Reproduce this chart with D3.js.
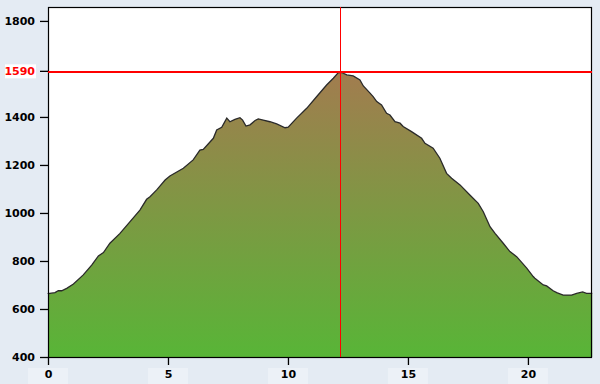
<!DOCTYPE html>
<html><head><meta charset="utf-8">
<script src="https://cdn.jsdelivr.net/npm/d3@7"></script>
<style>html,body{margin:0;padding:0;background:#e4ebf3;}</style>
</head><body>
<svg id="c" width="600" height="384"></svg>
<script>
const distKm = [0,0.01,0.29,0.43,0.57,0.78,1.06,1.47,1.82,2.10,2.31,2.58,3.0,3.42,3.83,4.11,4.25,4.53,4.88,5.08,5.64,6.05,6.33,6.47,6.89,7.03,7.24,7.45,7.58,7.79,8.0,8.11,8.25,8.42,8.63,8.76,8.97,9.25,9.53,9.88,10.01,10.36,10.78,11.2,11.61,11.89,12.1,12.24,12.45,12.72,13.0,13.14,13.42,13.55,13.7,13.9,14.11,14.25,14.46,14.67,14.8,15.15,15.57,15.71,16.05,16.33,16.61,16.82,17.17,17.58,17.93,18.14,18.42,18.63,18.97,19.25,19.53,19.95,20.22,20.29,20.64,20.78,21.05,21.2,21.47,21.82,22.03,22.28,22.44,22.68];
const elevM  = [662,664,668,676,676,686,704,742,783,821,835,874,915,964,1012,1057,1068,1096,1137,1154,1186,1221,1262,1265,1311,1346,1357,1395,1380,1390,1397,1387,1362,1367,1385,1392,1387,1380,1371,1355,1357,1395,1436,1485,1533,1561,1585,1585,1575,1571,1554,1529,1499,1485,1464,1450,1415,1408,1380,1374,1360,1339,1311,1290,1270,1228,1165,1145,1117,1075,1040,1005,943,915,874,839,818,770,735,728,700,696,676,668,658,658,665,671,665,665];
const yTicks = [400,600,800,1000,1200,1400,1800];
const xTicks = [0,5,10,15,20];
const markerKm = 12.2;
const markerElev = 1590;

(function(){
const svg = d3.select("#c");
const L = 48, R = 592, T = 7, B = 357;
const x = d3.scaleLinear().domain([0, 22.67]).range([L, R]);
const y = d3.scaleLinear().domain([400, 1858]).range([B, T]);

const defs = svg.append("defs");
const g = defs.append("linearGradient").attr("id","gr").attr("gradientUnits","userSpaceOnUse")
  .attr("x1",0).attr("x2",0).attr("y1",y(1590)).attr("y2",y(400));
g.append("stop").attr("offset","0").attr("stop-color","#a27c4f");
g.append("stop").attr("offset","1").attr("stop-color","#58b537");

svg.append("rect").attr("x",L).attr("y",T).attr("width",R-L).attr("height",B-T).attr("fill","#fff");

const data = distKm.map((d,i)=>({d, e: elevM[i]}));
svg.append("path").datum(data).attr("fill","url(#gr)")
  .attr("d", d3.area().x(p=>x(p.d)).y0(y(400)).y1(p=>y(p.e)));
svg.append("path").datum(data).attr("fill","none").attr("stroke","#2a2a2a").attr("stroke-width",1.3)
  .attr("d", d3.line().x(p=>x(p.d)).y(p=>y(p.e)));

// frame
svg.append("rect").attr("x",L+0.5).attr("y",T+0.5).attr("width",R-L-1).attr("height",B-T)
  .attr("fill","none").attr("stroke","#000").attr("stroke-width",1.2);

// crosshair
const hy = Math.floor(y(markerElev)), vx = Math.floor(x(markerKm));
const ch = svg.append("g").attr("class","crosshair").attr("shape-rendering","crispEdges");
ch.append("rect").attr("x",L).attr("y",hy).attr("width",R-L).attr("height",2).style("fill","#ff0000");
ch.append("rect").attr("x",vx).attr("y",T).attr("width",1).attr("height",B-T).style("fill","#ff0000");

// y axis
const ya = svg.append("g").attr("transform",`translate(${L},0)`)
  .call(d3.axisLeft(y).tickValues(yTicks).tickSize(8).tickPadding(5).tickFormat(d3.format("d")));
ya.select(".domain").remove();
ya.selectAll("line").attr("stroke","#000").attr("stroke-width",1.3);
ya.selectAll("text").attr("font-family","DejaVu Sans").attr("font-weight","bold").attr("font-size","11px").attr("fill","#000");

// marker label
const my = y(markerElev);
svg.append("rect").attr("x",5).attr("y",my-7).attr("width",31).attr("height",14).attr("fill","#fff");
svg.append("line").attr("x1",L-8).attr("x2",L).attr("y1",my).attr("y2",my).attr("stroke","#000").attr("stroke-width",1.3);
svg.append("text").attr("x",L-13).attr("y",my).attr("dy","0.35em").attr("text-anchor","end")
  .attr("font-family","DejaVu Sans").attr("font-weight","bold").attr("font-size","11px").attr("fill","#ff0000").text(markerElev);

// x axis
const xa = svg.append("g").attr("transform",`translate(0,${B})`);
xa.selectAll("rect.bg").data(xTicks).enter().append("rect")
  .attr("x",d=>x(d)-20).attr("y",11).attr("width",40).attr("height",16).attr("fill","#ecf1f7");
xa.call(d3.axisBottom(x).tickValues(xTicks).tickSize(8).tickPadding(5).tickFormat(d3.format("d")));
xa.select(".domain").remove();
xa.selectAll("line").attr("stroke","#000").attr("stroke-width",1.3);
xa.selectAll("text").attr("font-family","DejaVu Sans").attr("font-weight","bold").attr("font-size","11px").attr("fill","#000");
})();
</script>
</body></html>
